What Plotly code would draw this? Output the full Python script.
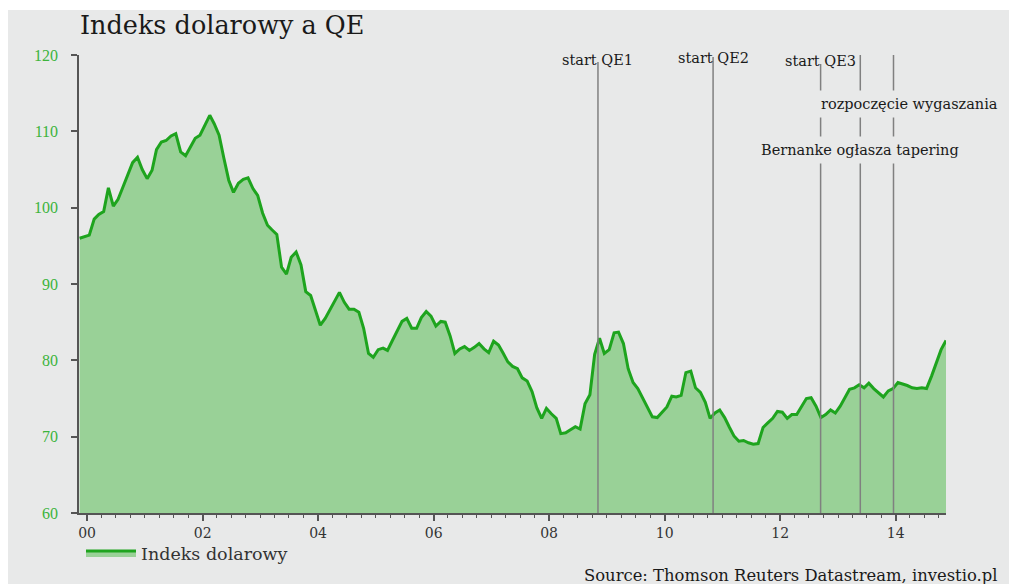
import pandas as pd
import plotly.graph_objects as go

title_text = "Indeks dolarowy a QE"
series_name = "Indeks dolarowy"
source_text = "Source: Thomson Reuters Datastream, investio.pl"

# Monthly values of the dollar index (Nov 1999 - Nov 2014)
start_month = "1999-11-01"
v1999 = [96.0, 96.2]
v2000 = [96.4, 98.5, 99.1, 99.5, 102.6, 100.2, 101.1, 102.7, 104.4, 105.9, 106.6, 105.0]
v2001 = [103.8, 104.9, 107.6, 108.6, 108.8, 109.4, 109.7, 107.3, 106.8, 108.0, 109.1, 109.5]
v2002 = [110.9, 112.1, 111.0, 109.5, 106.5, 103.6, 102.0, 103.2, 103.7, 103.9, 102.5, 101.6]
v2003 = [99.3, 97.7, 97.1, 96.5, 92.2, 91.3, 93.5, 94.2, 92.5, 89.0, 88.5, 86.5]
v2004 = [84.6, 85.5, 86.6, 87.8, 88.9, 87.6, 86.7, 86.7, 86.3, 84.2, 80.9, 80.4]
v2005 = [81.4, 81.6, 81.3, 82.6, 83.9, 85.1, 85.5, 84.2, 84.2, 85.6, 86.4, 85.8]
v2006 = [84.5, 85.1, 85.0, 83.2, 80.9, 81.5, 81.8, 81.3, 81.7, 82.2, 81.5, 81.0]
v2007 = [82.5, 82.0, 81.0, 79.8, 79.2, 78.9, 77.7, 77.3, 75.9, 73.8, 72.4, 73.7]
v2008 = [73.0, 72.4, 70.4, 70.5, 70.9, 71.3, 71.0, 74.3, 75.5, 80.8, 82.9, 80.9]
v2009 = [81.4, 83.6, 83.7, 82.2, 78.9, 77.1, 76.3, 75.1, 73.8, 72.6, 72.5, 73.2]
v2010 = [73.9, 75.3, 75.2, 75.4, 78.4, 78.6, 76.4, 75.8, 74.5, 72.4, 73.1, 73.5]
v2011 = [72.5, 71.2, 70.1, 69.4, 69.5, 69.2, 69.0, 69.1, 71.2, 71.8, 72.4, 73.3]
v2012 = [73.2, 72.4, 72.9, 72.9, 74.0, 75.0, 75.1, 74.0, 72.5, 72.9, 73.5, 73.1]
v2013 = [74.0, 75.1, 76.2, 76.4, 76.8, 76.4, 77.0, 76.3, 75.8, 75.2, 76.0, 76.3]
v2014 = [77.1, 76.9, 76.7, 76.4, 76.3, 76.4, 76.3, 77.9, 79.8, 81.4, 82.6]

values = (v1999 + v2000 + v2001 + v2002 + v2003 + v2004 + v2005 + v2006 + v2007
          + v2008 + v2009 + v2010 + v2011 + v2012 + v2013 + v2014)
dates = pd.date_range(start_month, periods=len(values), freq="MS") + pd.Timedelta(days=14)

event_dates = ["2008-11-05", "2010-11-03", "2012-09-13", "2013-05-22", "2013-12-18"]
event_labels = ["start QE1", "start QE2", "start QE3",
                "Bernanke ogłasza tapering", "rozpoczęcie wygaszania"]

y_ticks = [60, 70, 80, 90, 100, 110, 120]

BG = "#e8e9e9"
SERIF = "DejaVu Serif"

fig = go.Figure()
fig.add_trace(go.Scatter(
    x=dates, y=values, mode="lines", name=series_name,
    fill="tozeroy", fillcolor="#99d197",
    line=dict(color="#1ea41e", width=3),
))

# geometry helpers (pixel -> paper)
L, R, T, B = 79, 946, 55, 513
W, H = R - L, B - T
def px(xp):
    return (xp - L) / W
def py(yp):
    return (B - yp) / H

shapes = [dict(type="rect", xref="paper", yref="paper", x0=px(8), x1=px(1012),
               y0=py(590), y1=py(10), fillcolor=BG, line=dict(width=0), layer="below"),
          dict(type="line", xref="paper", yref="paper", x0=px(73), x1=px(79), y0=0, y1=0,
               line=dict(color="#555555", width=1.5))]
line_tops = [62, 57, 64, 55, 55]
for d, top in zip(event_dates, line_tops):
    shapes.append(dict(type="line", xref="x", yref="paper", x0=d, x1=d, y0=0, y1=py(top),
                       line=dict(color="#808080", width=1.5), layer="above"))

ann_font = dict(family=SERIF, size=14.5, color="#1a1a1a")
annotations = [
    dict(xref="x", yref="paper", x=event_dates[0], y=py(60), text=event_labels[0],
         showarrow=False, xanchor="center", yanchor="middle", font=ann_font),
    dict(xref="x", yref="paper", x=event_dates[1], y=py(58), text=event_labels[1],
         showarrow=False, xanchor="center", yanchor="middle", font=ann_font),
    dict(xref="x", yref="paper", x=event_dates[2], y=py(61), text=event_labels[2],
         showarrow=False, xanchor="center", yanchor="middle", font=ann_font),
    dict(xref="paper", yref="paper", x=px(860), y=py(150), text=event_labels[3],
         showarrow=False, xanchor="center", yanchor="middle", font=ann_font,
         bgcolor=BG, borderpad=5),
    dict(xref="paper", yref="paper", x=px(909), y=py(104), text=event_labels[4],
         showarrow=False, xanchor="center", yanchor="middle", font=ann_font,
         bgcolor=BG, borderpad=5),
    dict(xref="paper", yref="paper", x=px(582), y=py(575), text=source_text,
         showarrow=False, xanchor="left", yanchor="middle",
         font=dict(family=SERIF, size=16.4, color="#1a1a1a")),
]

fig.update_layout(
    width=1009, height=584,
    margin=dict(l=L, r=1009 - R, t=T, b=584 - B),
    paper_bgcolor="white", plot_bgcolor=BG,
    title=dict(text=title_text, x=80 / 1009, xanchor="left", y=1 - 25 / 584, yanchor="middle",
               font=dict(family=SERIF, size=25.5, color="#1a1a1a")),
    showlegend=True,
    legend=dict(orientation="h", x=px(81), xanchor="left", y=py(553), yanchor="middle",
                itemwidth=50, bgcolor="rgba(0,0,0,0)",
                font=dict(family=SERIF, size=17.5, color="#333333")),
    shapes=shapes, annotations=annotations,
    xaxis=dict(type="date", range=["1999-11-11", "2014-11-15"],
               showline=True, linecolor="#555555", linewidth=1.5,
               ticks="outside", ticklen=6, tickwidth=1.5, tickcolor="#555555",
               tick0="2000-01-01", dtick="M24", tickformat="%y",
               tickfont=dict(family=SERIF, size=14, color="#333333"),
               showgrid=False, zeroline=False,
               minor=dict(ticks="outside", dtick="M3", tick0="2000-01-01", ticklen=3,
                          tickcolor="#555555", tickwidth=1, showgrid=False)),
    yaxis=dict(range=[60, 120], tickvals=y_ticks,
               showline=True, linecolor="#555555", linewidth=1.5,
               ticks="outside", ticklen=6, tickwidth=1.5, tickcolor="#555555",
               ticklabelstandoff=10,
               tickfont=dict(family="Liberation Serif", size=16, color="#3cb43c"),
               showgrid=False, zeroline=False),
)

fig.write_html("out.html", config={"displayModeBar": False},
               post_script="document.body.style.margin='0';")
